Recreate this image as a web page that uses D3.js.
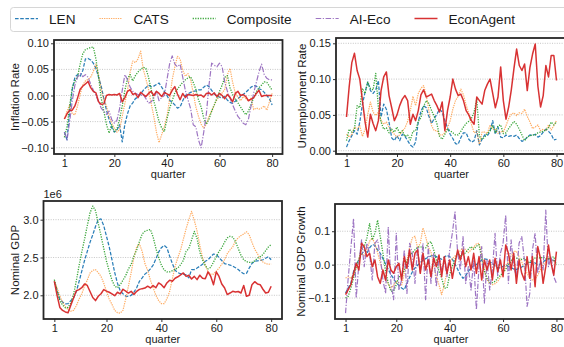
<!DOCTYPE html>
<html><head><meta charset="utf-8">
<script src="https://cdn.jsdelivr.net/npm/d3@7"></script>
<style>
body{margin:0;background:#fff;overflow:hidden}
svg{display:block}
text{font-family:"Liberation Sans",Arial,Helvetica,sans-serif;fill:#1a1a1a}
</style>
</head><body>
<svg id="chart" width="564" height="347"></svg>
<script>
// ---------------- data ----------------
const quarters = d3.range(1, 81);
const seriesNames = ["LEN", "CATS", "Composite", "AI-Eco", "EconAgent"];
const xTicks = [1, 20, 40, 60, 80];
const inflTicks = [-0.10, -0.05, 0.00, 0.05, 0.10];
const unempTicks = [0.00, 0.05, 0.10, 0.15];
const gdpTicks = [2.0, 2.5, 3.0];          // in units of 1e6
const growthTicks = [-0.1, 0.0, 0.1];

// Inflation Rate
const inflLEN = [-0.07,-0.085,-0.03,0.012,0.035,0.04,0.037,0.048,0.07,0.071,
  0.068,0.062,0.052,0.035,0.018,-0.006,-0.028,-0.046,-0.062,-0.07,
  -0.066,-0.056,-0.089,-0.055,-0.035,-0.02,-0.014,-0.006,-0.003,0.003,
  0.01,0.015,0.02,0.017,0.018,0.021,0.024,0.016,0.008,0.0,
  -0.009,-0.013,-0.018,-0.024,-0.022,-0.01,0.0,0.003,0.006,0.008,
  0.009,0.011,0.011,0.016,0.02,0.017,0.01,0.003,-0.001,-0.003,
  -0.005,-0.002,-0.009,-0.013,-0.015,-0.011,-0.006,-0.002,0.002,0.006,
  0.011,0.016,0.019,0.018,0.013,0.011,0.006,0.0,-0.006,-0.018];
const inflCATS = [-0.045,-0.03,-0.018,-0.035,-0.037,-0.02,0.002,0.02,0.028,0.031,
  0.035,0.046,0.06,0.04,0.012,-0.008,-0.02,-0.04,-0.053,-0.062,
  -0.07,-0.065,-0.04,-0.015,0.01,0.045,0.066,0.063,0.07,0.085,
  0.05,0.032,0.012,-0.015,-0.04,-0.07,-0.09,-0.075,-0.06,-0.04,
  -0.008,0.03,0.055,0.075,0.07,0.048,0.037,0.042,0.03,0.005,
  -0.022,-0.04,-0.055,-0.062,-0.055,-0.04,-0.03,-0.018,-0.008,-0.002,
  0.005,0.012,0.04,0.052,0.025,0.005,-0.003,-0.01,-0.002,-0.006,
  -0.01,-0.005,-0.027,-0.024,-0.026,-0.024,-0.02,-0.028,-0.012,0.004];
const inflComposite = [-0.08,-0.06,-0.02,0.015,0.028,0.036,0.06,0.08,0.088,0.09,
  0.092,0.093,0.07,0.035,-0.005,-0.03,-0.055,-0.072,-0.056,-0.069,
  -0.064,-0.045,-0.02,0.01,0.032,0.04,0.028,0.038,0.045,0.05,
  0.054,0.052,0.035,0.012,-0.01,-0.03,-0.05,-0.062,-0.069,-0.045,
  -0.025,-0.01,0.005,0.012,0.019,0.025,0.03,0.034,0.036,0.025,
  0.012,-0.008,-0.022,-0.043,-0.055,-0.045,-0.03,-0.018,-0.005,0.008,
  0.02,0.035,0.038,0.015,0.002,-0.007,-0.014,-0.022,-0.03,-0.037,
  -0.03,-0.017,-0.004,0.007,0.015,0.02,0.026,0.025,0.018,0.01];
const inflAIEco = [-0.07,-0.085,-0.05,-0.01,0.02,0.035,0.042,0.036,0.04,0.035,
  0.022,0.01,0.0,-0.012,-0.024,-0.03,-0.036,-0.03,-0.046,-0.053,
  -0.047,-0.025,0.01,0.04,0.03,0.016,0.008,0.004,0.002,0.0,
  0.002,-0.006,-0.015,-0.012,-0.005,0.008,-0.01,-0.004,0.0,0.03,
  0.06,0.076,0.06,0.055,0.06,0.035,0.01,-0.008,-0.025,-0.056,
  -0.06,-0.085,-0.1,-0.07,-0.035,0.02,0.062,0.058,0.055,0.062,
  0.055,0.025,0.008,-0.005,-0.018,-0.03,-0.04,-0.046,-0.053,-0.056,
  -0.045,-0.02,0.005,0.025,0.045,0.06,0.04,0.033,0.03,0.03];
const inflEconAgent = [-0.045,-0.035,-0.028,-0.028,-0.02,-0.005,0.012,0.018,0.022,0.027,
  0.015,0.008,0.005,-0.012,-0.017,-0.016,0.0,0.002,0.001,0.002,
  0.001,0.004,-0.012,-0.004,0.008,0.011,0.002,0.004,-0.004,0.006,
  0.002,-0.002,0.004,0.008,0.0,0.008,0.004,-0.002,0.006,0.003,
  0.0,0.01,0.017,0.003,-0.008,0.004,-0.004,0.002,0.001,0.0,
  0.002,0.0,0.001,-0.003,0.004,0.005,0.001,0.005,-0.002,0.004,
  0.0,-0.006,0.002,-0.004,-0.012,0.004,0.008,0.0,0.002,-0.002,
  -0.01,-0.007,-0.004,0.004,0.01,-0.002,0.0,0.0,0.0,0.0];

// Unemployment Rate
const unempLEN = [0.005,0.014,0.021,0.028,0.023,0.04,0.065,0.082,0.096,0.084,
  0.08,0.085,0.098,0.047,0.065,0.058,0.04,0.018,0.014,0.021,
  0.014,0.023,0.02,0.014,0.008,0.005,0.012,0.04,0.055,0.063,
  0.06,0.048,0.038,0.045,0.051,0.058,0.054,0.042,0.032,0.023,
  0.017,0.01,0.009,0.018,0.025,0.025,0.016,0.012,0.014,0.028,
  0.008,0.016,0.022,0.021,0.027,0.042,0.023,0.033,0.019,0.018,
  0.022,0.02,0.021,0.02,0.022,0.017,0.013,0.015,0.019,0.022,
  0.021,0.023,0.019,0.021,0.026,0.03,0.027,0.023,0.015,0.016];
const unempCATS = [0.023,0.019,0.023,0.033,0.03,0.035,0.02,0.03,0.051,0.068,
  0.054,0.049,0.054,0.042,0.037,0.04,0.033,0.027,0.023,0.019,
  0.022,0.027,0.032,0.041,0.056,0.076,0.063,0.08,0.087,0.091,
  0.077,0.056,0.035,0.028,0.028,0.022,0.022,0.025,0.032,0.042,
  0.058,0.07,0.076,0.086,0.078,0.064,0.052,0.037,0.025,0.027,
  0.009,0.026,0.026,0.024,0.036,0.03,0.03,0.024,0.027,0.026,
  0.035,0.045,0.051,0.053,0.049,0.053,0.052,0.058,0.048,0.04,
  0.031,0.033,0.036,0.028,0.03,0.028,0.036,0.029,0.035,0.042];
const unempComposite = [0.014,0.03,0.026,0.03,0.063,0.06,0.087,0.08,0.096,0.087,
  0.085,0.108,0.06,0.04,0.03,0.032,0.025,0.03,0.026,0.033,
  0.024,0.028,0.02,0.022,0.015,0.027,0.028,0.041,0.046,0.062,
  0.07,0.066,0.056,0.048,0.038,0.02,0.016,0.023,0.03,0.028,
  0.025,0.022,0.022,0.027,0.033,0.038,0.041,0.045,0.054,0.072,
  0.02,0.016,0.019,0.024,0.028,0.035,0.025,0.035,0.036,0.024,
  0.025,0.031,0.036,0.041,0.037,0.03,0.022,0.014,0.019,0.021,
  0.022,0.022,0.025,0.026,0.027,0.029,0.032,0.04,0.036,0.04];
const unempEconAgent = [0.047,0.089,0.123,0.136,0.112,0.1,0.07,0.04,0.019,0.051,
  0.038,0.028,0.042,0.084,0.103,0.11,0.077,0.06,0.042,0.05,
  0.063,0.072,0.077,0.07,0.037,0.051,0.042,0.056,0.078,0.085,
  0.075,0.077,0.079,0.07,0.063,0.054,0.068,0.028,0.056,0.075,
  0.1,0.086,0.077,0.079,0.07,0.056,0.05,0.042,0.037,0.075,
  0.07,0.065,0.084,0.093,0.1,0.08,0.06,0.075,0.117,0.07,
  0.044,0.061,0.085,0.115,0.142,0.119,0.112,0.121,0.084,0.116,
  0.135,0.149,0.09,0.061,0.077,0.119,0.103,0.133,0.133,0.098];

// Nominal GDP (x 1e6)
const gdpLEN = [2.185,2.06,1.95,1.91,1.885,1.89,1.93,1.965,2.05,2.18,
  2.32,2.46,2.58,2.7,2.8,2.91,3.0,3.01,2.92,2.78,
  2.64,2.47,2.3,2.16,2.06,2.02,1.99,1.987,2.0,2.04,
  2.1,2.185,2.23,2.28,2.31,2.35,2.4,2.48,2.57,2.63,
  2.66,2.63,2.52,2.42,2.33,2.3,2.285,2.28,2.27,2.23,
  2.34,2.34,2.36,2.385,2.41,2.45,2.47,2.51,2.546,2.54,
  2.5,2.46,2.42,2.41,2.4,2.385,2.365,2.34,2.31,2.285,
  2.29,2.36,2.42,2.45,2.455,2.46,2.47,2.49,2.51,2.47];
const gdpCATS = [2.185,2.1,1.99,1.91,1.85,1.81,1.79,1.8,1.86,1.95,
  2.02,2.12,2.2,2.295,2.33,2.34,2.3,2.25,2.16,2.05,
  1.95,1.88,1.8,1.77,1.765,1.8,1.95,2.12,2.3,2.5,
  2.64,2.68,2.58,2.42,2.33,2.2,2.1,2.0,1.93,1.89,
  1.89,1.95,2.05,2.22,2.38,2.5,2.6,2.74,2.88,3.0,
  3.11,2.99,2.85,2.66,2.5,2.4,2.31,2.28,2.28,2.32,
  2.36,2.41,2.47,2.55,2.6,2.64,2.72,2.76,2.79,2.81,
  2.84,2.8,2.7,2.61,2.55,2.48,2.44,2.42,2.41,2.414];
const gdpComposite = [2.207,2.06,1.93,1.87,1.835,1.84,1.9,2.01,2.19,2.39,
  2.57,2.74,2.92,3.09,3.18,3.12,2.95,2.79,2.62,2.45,
  2.32,2.2,2.12,2.1,2.14,2.2,2.26,2.35,2.41,2.52,
  2.6,2.71,2.81,2.845,2.86,2.87,2.77,2.62,2.5,2.4,
  2.335,2.31,2.31,2.325,2.345,2.36,2.405,2.46,2.58,2.62,
  2.73,2.845,2.75,2.57,2.47,2.39,2.35,2.37,2.44,2.51,
  2.58,2.63,2.7,2.76,2.78,2.77,2.71,2.62,2.53,2.47,
  2.445,2.435,2.435,2.455,2.49,2.51,2.54,2.59,2.64,2.67];
const gdpEconAgent = [2.185,2.0,1.84,1.8,1.78,1.77,1.87,1.965,2.06,2.075,
  2.1,2.15,2.13,2.05,1.97,1.93,1.987,2.02,2.075,2.055,
  2.04,2.02,1.995,2.04,2.02,2.08,2.055,2.03,2.053,2.01,
  2.053,2.078,2.088,2.095,2.12,2.097,2.13,2.1,2.163,2.14,
  2.1,2.163,2.2,2.185,2.225,2.245,2.27,2.295,2.25,2.265,
  2.215,2.25,2.207,2.265,2.225,2.22,2.31,2.25,2.14,2.31,
  2.25,2.15,2.1,2.01,2.03,2.053,2.044,2.05,2.03,2.13,
  1.987,2.0,2.14,2.18,2.15,2.14,2.08,2.03,2.04,2.12];

// Nominal GDP Growth
const growthLEN = [-0.085,-0.07,-0.055,-0.02,0.0,0.015,0.03,0.044,0.034,0.05,
  0.06,0.058,0.044,0.034,0.018,0.002,-0.014,-0.03,-0.042,-0.054,
  -0.062,-0.07,-0.075,-0.055,-0.038,-0.022,-0.01,-0.002,0.006,0.013,
  0.018,0.022,0.026,0.028,0.024,0.02,0.016,0.022,0.028,0.024,
  0.016,0.002,-0.014,-0.03,-0.041,-0.033,-0.02,-0.01,-0.003,0.0,
  0.008,0.013,0.017,0.016,0.008,0.004,-0.004,-0.009,-0.01,-0.005,
  -0.001,-0.005,-0.009,-0.013,-0.015,-0.011,-0.007,-0.002,0.002,0.006,
  0.009,0.005,0.0,0.002,0.008,0.014,0.019,0.016,0.012,0.009];
const growthCATS = [-0.04,-0.036,-0.041,-0.032,-0.01,0.018,0.034,0.026,0.045,0.07,
  0.08,0.062,0.036,0.006,-0.02,-0.045,-0.058,-0.07,-0.062,-0.05,
  -0.055,-0.062,-0.026,0.012,0.05,0.08,0.085,0.05,0.064,0.11,
  0.084,0.052,0.038,0.0,-0.036,-0.06,-0.09,-0.06,-0.02,0.006,
  0.018,0.026,0.033,0.042,0.05,0.045,0.036,0.044,0.052,0.062,
  0.064,0.03,-0.012,-0.045,-0.056,-0.06,-0.057,-0.05,-0.038,-0.024,
  -0.006,0.01,0.026,0.04,0.04,0.024,0.008,-0.01,-0.026,-0.04,
  -0.046,-0.042,-0.032,-0.015,0.0,0.01,0.022,0.016,0.01,0.004];
const growthComposite = [-0.1,-0.095,-0.07,-0.04,-0.006,0.014,0.05,0.054,0.08,0.123,
  0.074,0.094,0.133,0.084,0.034,-0.02,-0.055,-0.08,-0.078,-0.06,
  -0.036,-0.036,-0.015,0.012,0.028,0.035,0.044,0.052,0.054,0.05,
  0.05,0.064,0.069,0.045,0.014,-0.02,-0.04,-0.07,-0.07,-0.03,
  -0.005,0.016,0.034,0.026,0.03,0.036,0.046,0.054,0.046,0.055,
  0.06,0.02,-0.02,-0.042,-0.054,-0.054,-0.05,-0.04,-0.032,-0.024,
  -0.014,0.0,0.01,0.024,0.02,0.016,0.016,0.019,0.006,0.008,
  0.015,0.02,0.023,0.019,0.023,0.018,0.016,0.02,0.024,-0.001];
const growthAIEco = [-0.145,-0.04,0.05,0.138,-0.1,0.004,0.074,-0.006,0.064,0.034,
  -0.046,0.064,0.074,0.024,-0.046,-0.086,0.113,-0.056,-0.105,0.094,
  -0.076,-0.046,0.044,-0.086,0.064,0.034,-0.056,0.054,-0.026,0.064,
  -0.105,0.054,-0.056,0.034,-0.066,0.024,-0.016,0.014,-0.036,0.044,
  0.094,0.158,0.034,-0.016,0.084,-0.056,-0.006,-0.076,0.014,-0.135,
  -0.006,0.054,-0.115,0.014,-0.076,-0.016,0.094,-0.036,0.034,0.064,
  0.148,-0.056,0.074,-0.006,-0.036,0.064,0.084,0.014,-0.125,-0.086,
  0.044,0.094,-0.026,0.014,-0.016,0.163,-0.006,0.024,-0.036,-0.056];
const growthEconAgent = [-0.09,-0.075,-0.06,-0.026,0.004,-0.016,0.064,0.054,0.024,0.034,
  -0.006,0.014,-0.036,-0.056,-0.016,-0.046,0.014,-0.016,-0.026,-0.006,
  0.004,-0.046,0.024,-0.011,0.044,-0.016,0.034,0.044,-0.026,0.034,
  -0.016,0.014,-0.036,0.019,-0.006,0.029,-0.036,0.024,-0.026,0.014,
  -0.041,0.004,0.044,0.014,0.044,-0.006,0.024,-0.016,0.034,-0.026,
  0.024,-0.046,0.014,-0.016,0.014,-0.046,0.019,-0.021,0.014,-0.036,
  0.059,0.034,-0.016,0.034,-0.056,0.014,-0.026,-0.046,0.024,-0.041,
  0.024,-0.066,0.054,0.019,-0.056,-0.006,0.059,0.004,-0.031,0.039];

// ---------------- styles ----------------
const styles = {
  "LEN":       {color:"#1f77b4", dash:"3.6,1.6",        width:1.25, opacity:0.95},
  "CATS":      {color:"#ff7f0e", dash:"1.3,1",          width:1.2,  opacity:0.65},
  "Composite": {color:"#2ca02c", dash:"1.2,1.3",        width:1.3,  opacity:0.95},
  "AI-Eco":    {color:"#9467bd", dash:"5.5,1.6,1.2,1.6",width:1.2,  opacity:0.9},
  "EconAgent": {color:"#d62728", dash:null,             width:1.5,  opacity:0.95}
};

const svg = d3.select("#chart");
const FONT = 11;

// ---------------- legend ----------------
const lg = svg.append("g");
lg.append("rect").attr("x",10.5).attr("y",7.5).attr("width",600).attr("height",24)
  .attr("rx",3).attr("fill","#fff").attr("stroke","#d6d6d6").attr("stroke-width",1);
let lx = 15;
seriesNames.forEach(name => {
  const s = styles[name];
  lg.append("line").attr("x1",lx).attr("x2",lx+23).attr("y1",18.5).attr("y2",18.5)
    .attr("stroke",s.color).attr("stroke-width",s.width).attr("stroke-opacity",s.opacity)
    .attr("stroke-dasharray",s.dash);
  const t = lg.append("text").attr("x",lx+34).attr("y",23.5)
    .style("font-size","13.6px").text(name);
  lx = lx + 34 + t.node().getComputedTextLength() + 24;
});

// ---------------- panels ----------------
const panels = [
  {ylabel:"Inflation Rate", series:{"LEN":inflLEN,"CATS":inflCATS,"Composite":inflComposite,"AI-Eco":inflAIEco,"EconAgent":inflEconAgent},
   ticks:inflTicks, fmt:d3.format(".2f"), ydom:[-0.112,0.1063], left:54, right:282.5, top:40, bottom:154, ylabX:15},
  {ylabel:"Unemployment Rate", series:{"LEN":unempLEN,"CATS":unempCATS,"Composite":unempComposite,"EconAgent":unempEconAgent},
   ticks:unempTicks, fmt:d3.format(".2f"), ydom:[-0.0046,0.1574], left:336, right:567, top:38, bottom:154, ylabX:301.5},
  {ylabel:"Nominal GDP", series:{"LEN":gdpLEN,"CATS":gdpCATS,"Composite":gdpComposite,"EconAgent":gdpEconAgent},
   ticks:gdpTicks, fmt:d3.format(".1f"), ydom:[1.6865,3.247], left:43.5, right:282, top:201, bottom:319, ylabX:15, offset:"1e6"},
  {ylabel:"Nominal GDP Growth", series:{"LEN":growthLEN,"CATS":growthCATS,"Composite":growthComposite,"AI-Eco":growthAIEco,"EconAgent":growthEconAgent},
   ticks:growthTicks, fmt:d3.format(".1f"), ydom:[-0.1627,0.1815], left:335, right:567, top:204, bottom:319, ylabX:300.5}
];

panels.forEach((p, pi) => {
  const x = d3.scaleLinear().domain([-2.95, 83.95]).range([p.left, p.right]);
  const y = d3.scaleLinear().domain(p.ydom).range([p.bottom, p.top]);
  const g = svg.append("g");

  // grid
  g.selectAll(".grid").data(p.ticks).enter().append("line")
    .attr("x1",p.left).attr("x2",p.right)
    .attr("y1",d=>y(d)).attr("y2",d=>y(d))
    .attr("stroke","#b8b8b8").attr("stroke-width",0.8).attr("stroke-dasharray","1,1.4");

  // clip
  const cid = "clip"+pi;
  svg.append("clipPath").attr("id",cid).append("rect")
    .attr("x",p.left).attr("y",p.top).attr("width",p.right-p.left).attr("height",p.bottom-p.top);

  const lines = g.append("g").attr("clip-path",`url(#${cid})`);
  seriesNames.forEach(name => {
    const vals = p.series[name];
    if (!vals) return;
    const s = styles[name];
    const line = d3.line().x((d,i)=>x(quarters[i])).y(d=>y(d));
    lines.append("path").attr("d", line(vals)).attr("fill","none")
      .attr("stroke",s.color).attr("stroke-width",s.width).attr("stroke-opacity",s.opacity)
      .attr("stroke-dasharray",s.dash).attr("stroke-linejoin","round");
  });

  // axes
  const xa = g.append("g").attr("transform",`translate(0,${p.bottom})`)
    .call(d3.axisBottom(x).tickValues(xTicks).tickFormat(d3.format("d")).tickSize(3).tickPadding(2));
  const ya = g.append("g").attr("transform",`translate(${p.left},0)`)
    .call(d3.axisLeft(y).tickValues(p.ticks).tickFormat(p.fmt).tickSize(3).tickPadding(2));
  [xa, ya].forEach(a => {
    a.select(".domain").remove();
    a.selectAll(".tick line").attr("stroke","#333");
    a.selectAll(".tick text").attr("fill","#1a1a1a")
      .style("font-size",FONT+"px").style("font-family","'Liberation Sans',Arial,sans-serif");
  });

  // frame
  g.append("rect").attr("x",p.left).attr("y",p.top)
    .attr("width",p.right-p.left).attr("height",p.bottom-p.top)
    .attr("fill","none").attr("stroke","#262626").attr("stroke-width",1.8);

  // labels
  g.append("text").attr("x",(p.left+p.right)/2).attr("y",p.bottom+23.5)
    .attr("text-anchor","middle").style("font-size",FONT+"px").text("quarter");
  g.append("text").attr("transform",`translate(${p.ylabX},${(p.top+p.bottom)/2}) rotate(-90)`)
    .attr("text-anchor","middle").attr("dy","0.35em").style("font-size","11.5px").text(p.ylabel);
  if (p.offset) {
    g.append("text").attr("x",p.left).attr("y",p.top-3)
      .style("font-size",FONT+"px").text(p.offset);
  }
});
</script>
</body></html>
